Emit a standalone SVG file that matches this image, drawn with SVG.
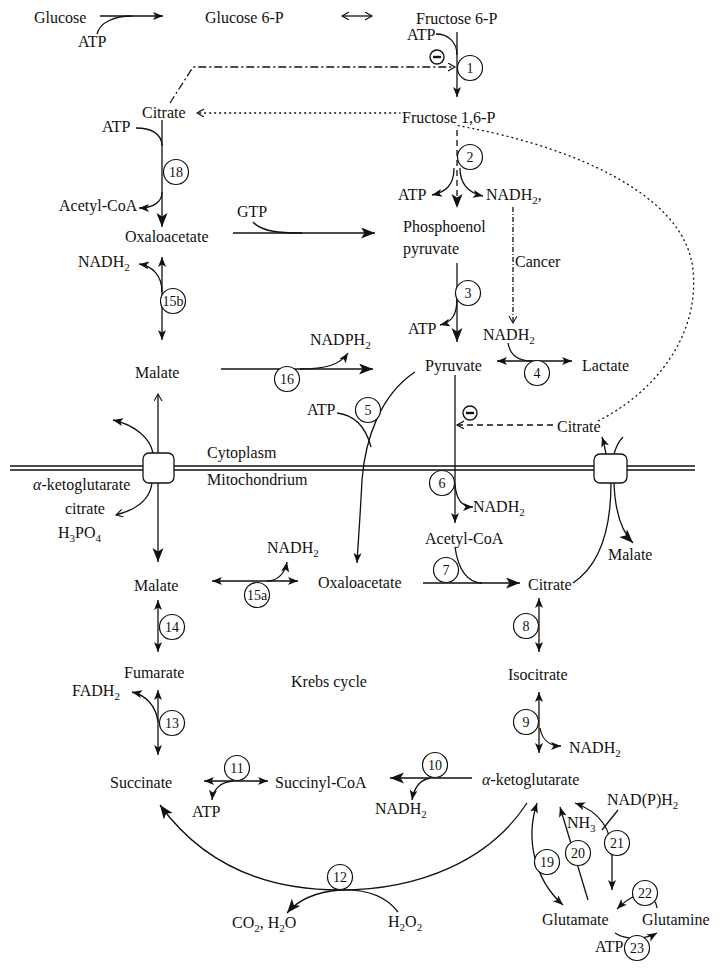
<svg xmlns="http://www.w3.org/2000/svg" width="720" height="972" viewBox="0 0 720 972">
<defs>
<style>
text{font-family:"Liberation Serif","Times New Roman",serif;font-size:16px;fill:#111}
.n{font-size:14px;text-anchor:middle}
.halo{stroke:#fff;stroke-width:4px;paint-order:stroke;stroke-linejoin:round}
.c{fill:none;stroke:#111;stroke-width:1.3}
.e{fill:#fff;stroke:#111;stroke-width:1.2}
.box{fill:#fff;stroke:#111;stroke-width:1.3}
.dash{stroke-dasharray:6,4}
.dd{stroke-dasharray:8,3,2,3}
.dot{stroke-dasharray:2,3}
</style>
<marker id="a" markerUnits="userSpaceOnUse" markerWidth="12" markerHeight="10" refX="10" refY="4" orient="auto-start-reverse"><path d="M0,0 L10,4 L0,8 L2.5,4 z" fill="#111"/></marker>
<marker id="A" markerUnits="userSpaceOnUse" markerWidth="16" markerHeight="12" refX="14" refY="5.5" orient="auto-start-reverse"><path d="M0,0 L14,5.5 L0,11 L3.5,5.5 z" fill="#111"/></marker>
<marker id="o" markerUnits="userSpaceOnUse" markerWidth="10" markerHeight="10" refX="7" refY="4" orient="auto-start-reverse"><path d="M0,0 L7,4 L0,8" fill="none" stroke="#111" stroke-width="1.1"/></marker>
</defs>
<rect width="720" height="972" fill="#fff"/>

<g id="connectors">
<path class="c" d="M10,466 L695,466 M10,470 L695,470"/>
<path class="c" d="M100,16 L163,16" marker-end="url(#a)"/>
<path class="c" d="M97,34 C100,22 115,16 132,16"/>
<path class="c" d="M342,16 L372,16" stroke-width="1" marker-start="url(#o)" marker-end="url(#o)"/>
<path class="c" d="M457,32 L457,97" marker-end="url(#a)"/>
<path class="c" d="M436,34 C448,34 457,42 457,55"/>
<path class="c dd" d="M170,103 L193,67 L455,67" stroke-width="1" marker-end="url(#o)"/>
<path class="c dot" stroke-width="1.1" d="M598,421 C650,395 700,340 693,270 C685,190 560,145 470,128 C440,122 420,114 400,113 L197,113" marker-end="url(#o)"/>
<path class="c dash" d="M457,130 L457,208" stroke-width="1.6" marker-end="url(#A)"/>
<path class="c" d="M454,168 C454,185 446,192 432,195" marker-end="url(#a)"/>
<path class="c" d="M460,168 C460,185 469,193 483,196" marker-end="url(#a)"/>
<path class="c" d="M513,207 L513,323" stroke-width="1" stroke-dasharray="5,2,1,2" marker-end="url(#o)"/>
<path class="c" d="M457,263 L457,342" marker-end="url(#A)"/>
<path class="c" d="M457,298 C457,315 452,322 440,325" marker-end="url(#a)"/>
<path class="c" d="M497,361 L572,361" marker-start="url(#a)" marker-end="url(#a)"/>
<path class="c" d="M508,343 C510,355 518,361 532,361"/>
<path class="c" d="M455,375 L455,523" marker-end="url(#a)"/>
<path class="c" d="M455,484 C456,500 462,507 473,507" marker-end="url(#a)"/>
<path class="c dash" d="M553,425 L457,425" stroke-width="1.1" marker-end="url(#o)"/>
<path class="c" d="M162,120 L162,227" marker-end="url(#A)"/>
<path class="c" d="M136,128 C150,128 162,133 162,146"/>
<path class="c" d="M162,192 C162,203 152,208 139,208" marker-end="url(#a)"/>
<path class="c" d="M233,233 L375,233" marker-end="url(#A)"/>
<path class="c" d="M253,222 C262,232 280,233 302,233"/>
<path class="c" d="M162,257 L162,340" marker-start="url(#a)" marker-end="url(#a)"/>
<path class="c" d="M162,292 C162,275 152,266 139,264" marker-end="url(#a)"/>
<path class="c" d="M221,369 L373,369" marker-end="url(#A)"/>
<path class="c" d="M300,369 C325,369 340,365 348,353" marker-end="url(#a)"/>
<path class="c" d="M415,372 C380,395 365,440 362,480 C360,520 358,545 357,563" marker-end="url(#a)"/>
<path class="c" d="M337,413 C355,415 366,428 371,447"/>
<path class="c" d="M158,453 L158,394" marker-end="url(#o)"/>
<path class="c" d="M153,453 C150,438 135,425 113,420" marker-end="url(#a)"/>
<path class="c" d="M152,483 C150,500 135,510 116,515" marker-end="url(#o)"/>
<path class="c" d="M158,483 L158,562" marker-end="url(#A)"/>
<path class="c" d="M611,483 C611,530 600,565 573,583"/>
<path class="c" d="M614,483 C615,510 620,530 633,543" marker-end="url(#A)"/>
<path class="c" d="M606,454 C605,448 604,443 602,437" marker-end="url(#a)"/>
<path class="c" d="M614,454 C616,447 619,441 623,437"/>
<path class="c" d="M212,581 L298,581" marker-start="url(#a)" marker-end="url(#a)"/>
<path class="c" d="M267,581 C278,581 285,573 287,562" marker-end="url(#a)"/>
<path class="c" d="M423,583 L520,583" marker-end="url(#A)"/>
<path class="c" d="M455,547 C458,570 468,583 482,583"/>
<path class="c" d="M539,598 L539,652" marker-start="url(#a)" marker-end="url(#a)"/>
<path class="c" d="M539,692 L539,753" marker-start="url(#a)" marker-end="url(#a)"/>
<path class="c" d="M540,728 C542,740 550,746 561,746" marker-end="url(#a)"/>
<path class="c" d="M472,778 L390,778" marker-end="url(#A)"/>
<path class="c" d="M430,778 C420,780 414,788 412,800" marker-end="url(#a)"/>
<path class="c" d="M204,781 L268,781" marker-start="url(#a)" marker-end="url(#a)"/>
<path class="c" d="M233,781 C220,782 213,790 212,800" marker-end="url(#a)"/>
<path class="c" d="M158,600 L158,652" marker-start="url(#a)" marker-end="url(#a)"/>
<path class="c" d="M158,690 L158,755" marker-start="url(#a)" marker-end="url(#a)"/>
<path class="c" d="M158,722 C156,705 145,695 132,692" marker-end="url(#a)"/>
<path class="c" d="M527,803 C490,860 420,890 340,890 C260,890 200,860 160,805" marker-end="url(#A)"/>
<path class="c" d="M398,912 C385,895 365,889 340,890 C315,892 298,900 287,913" marker-end="url(#A)"/>
<path class="c" d="M537,803 C525,840 535,880 563,905" marker-start="url(#a)" marker-end="url(#a)"/>
<path class="c" d="M588,900 L560,807" marker-end="url(#a)"/>
<path class="c" d="M575,803 C600,812 612,830 612,855 L612,890" marker-start="url(#a)" marker-end="url(#a)"/>
<path class="c" d="M618,810 L602,830"/>
<path class="c" d="M657,908 C655,895 645,893 635,896 C627,899 622,904 617,909" marker-end="url(#a)"/>
<path class="c" d="M615,933 C625,940 645,940 657,933" marker-end="url(#a)"/>
</g>

<g id="transporter-left"><rect class="box" x="143" y="453" width="31" height="30" rx="6"/></g>
<g id="transporter-right"><rect class="box" x="594" y="454" width="33" height="29" rx="6"/></g>

<g id="inhibit1"><circle cx="437" cy="57" r="7" fill="#fff" stroke="#111" stroke-width="1.4"/><path d="M433,57 L441,57" stroke="#111" stroke-width="2.4"/></g>
<g id="inhibit2"><circle cx="470" cy="413" r="7" fill="#fff" stroke="#111" stroke-width="1.4"/><path d="M466,413 L474,413" stroke="#111" stroke-width="2.4"/></g>

<g id="enzymes">
<g id="e1"><circle class="e" cx="470" cy="68" r="12.5"/><text class="n" x="470" y="73">1</text></g>
<g id="e2"><circle class="e" cx="470" cy="157" r="12.5"/><text class="n" x="470" y="162">2</text></g>
<g id="e3"><circle class="e" cx="468" cy="293" r="12.5"/><text class="n" x="468" y="298">3</text></g>
<g id="e4"><circle class="e" cx="537" cy="373" r="12.5"/><text class="n" x="537" y="378">4</text></g>
<g id="e5"><circle class="e" cx="368" cy="410" r="12.5"/><text class="n" x="368" y="415">5</text></g>
<g id="e6"><circle class="e" cx="442" cy="483" r="12.5"/><text class="n" x="442" y="488">6</text></g>
<g id="e7"><circle class="e" cx="446" cy="570" r="12.5"/><text class="n" x="446" y="575">7</text></g>
<g id="e8"><circle class="e" cx="526" cy="626" r="12.5"/><text class="n" x="526" y="631">8</text></g>
<g id="e9"><circle class="e" cx="526" cy="722" r="12.5"/><text class="n" x="526" y="727">9</text></g>
<g id="e10"><circle class="e" cx="435" cy="765" r="12.5"/><text class="n" x="435" y="770">10</text></g>
<g id="e11"><circle class="e" cx="237" cy="768" r="12.5"/><text class="n" x="237" y="773">11</text></g>
<g id="e12"><circle class="e" cx="340" cy="877" r="12.5"/><text class="n" x="340" y="882">12</text></g>
<g id="e13"><circle class="e" cx="172" cy="723" r="12.5"/><text class="n" x="172" y="728">13</text></g>
<g id="e14"><circle class="e" cx="172" cy="627" r="12.5"/><text class="n" x="172" y="632">14</text></g>
<g id="e15a"><circle class="e" cx="257" cy="595" r="12.5"/><text class="n" x="257" y="600">15a</text></g>
<g id="e15b"><circle class="e" cx="173" cy="301" r="12.5"/><text class="n" x="173" y="306">15b</text></g>
<g id="e16"><circle class="e" cx="287" cy="379" r="12.5"/><text class="n" x="287" y="384">16</text></g>
<g id="e18"><circle class="e" cx="176" cy="172" r="12.5"/><text class="n" x="176" y="177">18</text></g>
<g id="e19"><circle class="e" cx="547" cy="862" r="12.5"/><text class="n" x="547" y="867">19</text></g>
<g id="e20"><circle class="e" cx="578" cy="853" r="12.5"/><text class="n" x="578" y="858">20</text></g>
<g id="e21"><circle class="e" cx="617" cy="843" r="12.5"/><text class="n" x="617" y="848">21</text></g>
<g id="e22"><circle class="e" cx="645" cy="893" r="12.5"/><text class="n" x="645" y="898">22</text></g>
<g id="e23"><circle class="e" cx="637" cy="948" r="12.5"/><text class="n" x="637" y="953">23</text></g>
</g>

<g id="labels">
<g id="glucose"><text x="34" y="23">Glucose</text></g>
<g id="atp-glc"><text x="78" y="47">ATP</text></g>
<g id="g6p"><text x="205" y="23">Glucose 6-P</text></g>
<g id="f6p"><text x="416" y="24">Fructose 6-P</text></g>
<g id="atp-1"><text x="407" y="40">ATP</text></g>
<g id="citrate-cyto"><text x="142" y="118">Citrate</text></g>
<g id="f16p"><text class="halo" x="402" y="123">Fructose 1,6-P</text></g>
<g id="atp-18"><text x="102" y="132">ATP</text></g>
<g id="acoa-cyto"><text x="59" y="211">Acetyl-CoA</text></g>
<g id="oaa-cyto"><text x="125" y="242">Oxaloacetate</text></g>
<g id="gtp"><text x="237" y="217">GTP</text></g>
<g id="atp-2"><text x="398" y="200">ATP</text></g>
<g id="nadh-2"><text x="486" y="200">NADH<tspan font-size="11" dy="4">2</tspan><tspan dy="-4">,</tspan></text></g>
<g id="pep"><text x="403" y="232">Phosphoenol</text><text x="403" y="254">pyruvate</text></g>
<g id="cancer"><text x="515" y="267">Cancer</text></g>
<g id="nadh-15b"><text x="78" y="267">NADH<tspan font-size="11" dy="4">2</tspan></text></g>
<g id="atp-3"><text x="408" y="334">ATP</text></g>
<g id="nadh-4"><text x="483" y="340">NADH<tspan font-size="11" dy="4">2</tspan></text></g>
<g id="nadph-16"><text x="310" y="345">NADPH<tspan font-size="11" dy="4">2</tspan></text></g>
<g id="malate-cyto"><text x="135" y="378">Malate</text></g>
<g id="pyruvate"><text x="425" y="371">Pyruvate</text></g>
<g id="lactate"><text x="582" y="371">Lactate</text></g>
<g id="atp-5"><text x="307" y="415">ATP</text></g>
<g id="citrate-right"><text x="557" y="432">Citrate</text></g>
<g id="cytoplasm"><text x="207" y="458">Cytoplasm</text></g>
<g id="mitochondrium"><text x="207" y="485">Mitochondrium</text></g>
<g id="akg-left"><text x="33" y="490"><tspan font-style="italic">α</tspan>-ketoglutarate</text></g>
<g id="citrate-left"><text x="65" y="514">citrate</text></g>
<g id="h3po4"><text x="58" y="538">H<tspan font-size="11" dy="4">3</tspan><tspan dy="-4">PO</tspan><tspan font-size="11" dy="4">4</tspan></text></g>
<g id="nadh-6"><text x="473" y="512">NADH<tspan font-size="11" dy="4">2</tspan></text></g>
<g id="acoa-mito"><text x="425" y="544">Acetyl-CoA</text></g>
<g id="nadh-15a"><text x="267" y="553">NADH<tspan font-size="11" dy="4">2</tspan></text></g>
<g id="malate-right"><text x="608" y="560">Malate</text></g>
<g id="malate-mito"><text x="134" y="591">Malate</text></g>
<g id="oaa-mito"><text x="318" y="588">Oxaloacetate</text></g>
<g id="citrate-mito"><text x="528" y="590">Citrate</text></g>
<g id="fumarate"><text x="124" y="678">Fumarate</text></g>
<g id="isocitrate"><text x="508" y="680">Isocitrate</text></g>
<g id="krebs"><text x="291" y="687">Krebs cycle</text></g>
<g id="fadh"><text x="72" y="696">FADH<tspan font-size="11" dy="4">2</tspan></text></g>
<g id="nadh-9"><text x="569" y="753">NADH<tspan font-size="11" dy="4">2</tspan></text></g>
<g id="akg-mito"><text x="482" y="785"><tspan font-style="italic">α</tspan>-ketoglutarate</text></g>
<g id="succinate"><text x="110" y="788">Succinate</text></g>
<g id="succoa"><text x="275" y="788">Succinyl-CoA</text></g>
<g id="nadh-10"><text x="375" y="814">NADH<tspan font-size="11" dy="4">2</tspan></text></g>
<g id="atp-11"><text x="192" y="817">ATP</text></g>
<g id="nadph-21"><text x="607" y="805">NAD(P)H<tspan font-size="11" dy="4">2</tspan></text></g>
<g id="nh3"><text x="567" y="828">NH<tspan font-size="11" dy="4">3</tspan></text></g>
<g id="co2"><text x="232" y="928">CO<tspan font-size="11" dy="4">2</tspan><tspan dy="-4">, H</tspan><tspan font-size="11" dy="4">2</tspan><tspan dy="-4">O</tspan></text></g>
<g id="h2o2"><text x="388" y="927">H<tspan font-size="11" dy="4">2</tspan><tspan dy="-4">O</tspan><tspan font-size="11" dy="4">2</tspan></text></g>
<g id="glutamate"><text x="542" y="925">Glutamate</text></g>
<g id="glutamine"><text x="642" y="925">Glutamine</text></g>
<g id="atp-23"><text x="595" y="952">ATP</text></g>
</g>
</svg>
